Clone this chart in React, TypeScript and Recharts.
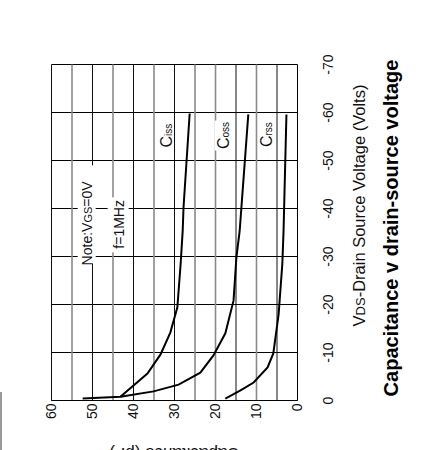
import {
  LineChart,
  Line,
  XAxis,
  YAxis,
  CartesianGrid,
  ReferenceLine,
  ReferenceDot,
} from 'recharts';

const FONT = '"Liberation Sans", Arial, sans-serif';

// drain-source voltage ticks (V) and capacitance ticks (pF)
const vTicks = [0, -10, -20, -30, -40, -50, -60, -70];
const cTicks = [0, 10, 20, 30, 40, 50, 60];
const cGridDark = [60, 50, 40, 30, 15, 5];
const cGridLight = [55, 45, 35, 25, 20, 10];

const ciss = [
  { v: -0.4, c: 52.4 },
  { v: -0.8, c: 43.2 },
  { v: -5.6, c: 36.6 },
  { v: -9.6, c: 33.4 },
  { v: -14.2, c: 31.0 },
  { v: -19.4, c: 29.3 },
  { v: -28.5, c: 28.5 },
  { v: -35.4, c: 28.0 },
  { v: -40.2, c: 27.8 },
  { v: -59.8, c: 26.3 },
];

const coss = [
  { v: -0.8, c: 43.2 },
  { v: -1.9, c: 35.1 },
  { v: -3.3, c: 29.0 },
  { v: -5.8, c: 23.7 },
  { v: -9.4, c: 20.5 },
  { v: -14, c: 17.6 },
  { v: -20.8, c: 15.6 },
  { v: -29.8, c: 14.9 },
  { v: -35.4, c: 14.1 },
  { v: -59.6, c: 12.0 },
];

const crss = [
  { v: -0.4, c: 17.6 },
  { v: -2.1, c: 13.9 },
  { v: -3.75, c: 10.7 },
  { v: -6.9, c: 7.3 },
  { v: -9.8, c: 5.9 },
  { v: -18, c: 4.6 },
  { v: -28.5, c: 3.7 },
  { v: -35.4, c: 3.4 },
  { v: -59.6, c: 2.7 },
];

function CurveLabel({ viewBox, sub }: any) {
  const { x, y } = viewBox;
  return (
    <g>
      <rect x={x - 15} y={y - 14} width={30} height={15} fill="#fff" />
      <text x={x} y={y} textAnchor="middle" fontFamily={FONT} fill="#111">
        <tspan fontSize={16}>C</tspan>
        <tspan fontSize={10}>{sub}</tspan>
      </text>
    </g>
  );
}

function NoteLabel({ viewBox }: any) {
  const { x, y } = viewBox;
  return (
    <g>
      <rect x={x - 40} y={y - 14} width={98} height={18} fill="#fff" />
      <text x={x} y={y} textAnchor="middle" fontFamily={FONT} fontSize={14} fill="#111">
        Note:V<tspan fontSize={11}>GS</tspan>=0V
      </text>
    </g>
  );
}

function FreqLabel({ viewBox }: any) {
  const { x, y } = viewBox;
  return (
    <g>
      <rect x={x - 28} y={y - 16} width={55} height={21} fill="#fff" />
      <text x={x} y={y} textAnchor="middle" fontFamily={FONT} fontSize={14} fill="#111">
        f=1MHz
      </text>
    </g>
  );
}

function XTitles({ viewBox }: any) {
  const { x, y, width } = viewBox;
  const cx = x + width / 2;
  return (
    <g fontFamily={FONT}>
      <text x={cx + 27} y={y + 67} textAnchor="middle" fontSize={16.5} fill="#111">
        V<tspan fontSize={13}>DS</tspan>-Drain Source Voltage (Volts)
      </text>
      <text x={cx + 4.5} y={y + 100} textAnchor="middle" fontSize={20} fontWeight="bold" fill="#000">
        Capacitance v drain-source voltage
      </text>
    </g>
  );
}

function YTitle({ viewBox }: any) {
  const cy = viewBox.y + viewBox.height / 2;
  return (
    <text
      x={3}
      y={cy}
      transform={`rotate(-90, 3, ${cy})`}
      textAnchor="middle"
      fontFamily={FONT}
      fontSize={17}
      fill="#111"
    >
      Capacitance (pF)
    </text>
  );
}

const tickStyle = { fontSize: 14, fill: '#111', fontFamily: FONT };

export default function App() {
  return (
    <div style={{ position: 'absolute', left: 0, top: 0, width: 421, height: 450, overflow: 'hidden', background: '#fff' }}>
      <div style={{ position: 'absolute', left: 0, top: 392, width: 2, height: 58, background: '#999' }} />
      {/* chart is drawn upright, then turned a quarter counter-clockwise */}
      <div
        style={{
          position: 'absolute',
          left: -14.5,
          top: 14.5,
          width: 450,
          height: 421,
          transform: 'rotate(-90deg)',
        }}
      >
        <LineChart width={450} height={421} margin={{ top: 51, right: 64, left: 0, bottom: 0 }}>
          <CartesianGrid horizontal={false} stroke="#000" />
          {cGridLight.map((c) => (
            <ReferenceLine key={'l' + c} y={c} stroke="#8a8a8a" strokeWidth={1.6} />
          ))}
          {cGridDark.map((c) => (
            <ReferenceLine key={'d' + c} y={c} stroke="#111" strokeWidth={1} />
          ))}
          <XAxis
            type="number"
            dataKey="v"
            domain={[-70, 0]}
            reversed
            ticks={vTicks}
            interval={0}
            height={124}
            tickLine={false}
            tickSize={0}
            tickMargin={26}
            axisLine={{ stroke: '#000' }}
            tick={tickStyle}
            label={(p: any) => <XTitles {...p} />}
          />
          <YAxis
            type="number"
            domain={[0, 60]}
            ticks={cTicks}
            interval={0}
            width={50}
            tickLine={false}
            tickSize={0}
            tickMargin={3}
            axisLine={{ stroke: '#000' }}
            tick={tickStyle}
            label={(p: any) => <YTitle {...p} />}
          />
          <Line data={ciss} dataKey="c" type="linear" stroke="#000" strokeWidth={2} dot={false} isAnimationActive={false} />
          <Line data={coss} dataKey="c" type="linear" stroke="#000" strokeWidth={2} dot={false} isAnimationActive={false} />
          <Line data={crss} dataKey="c" type="linear" stroke="#000" strokeWidth={2} dot={false} isAnimationActive={false} />
          <ReferenceDot x={-55.2} y={30.5} r={0} fill="none" stroke="none" label={(p: any) => <CurveLabel {...p} sub="iss" />} />
          <ReferenceDot x={-55.2} y={16.8} r={0} fill="none" stroke="none" label={(p: any) => <CurveLabel {...p} sub="oss" />} />
          <ReferenceDot x={-55.4} y={6.1} r={0} fill="none" stroke="none" label={(p: any) => <CurveLabel {...p} sub="rss" />} />
          <ReferenceDot x={-36.9} y={50.2} r={0} fill="none" stroke="none" label={(p: any) => <NoteLabel {...p} />} />
          <ReferenceDot x={-36.7} y={42.4} r={0} fill="none" stroke="none" label={(p: any) => <FreqLabel {...p} />} />
        </LineChart>
      </div>
    </div>
  );
}
